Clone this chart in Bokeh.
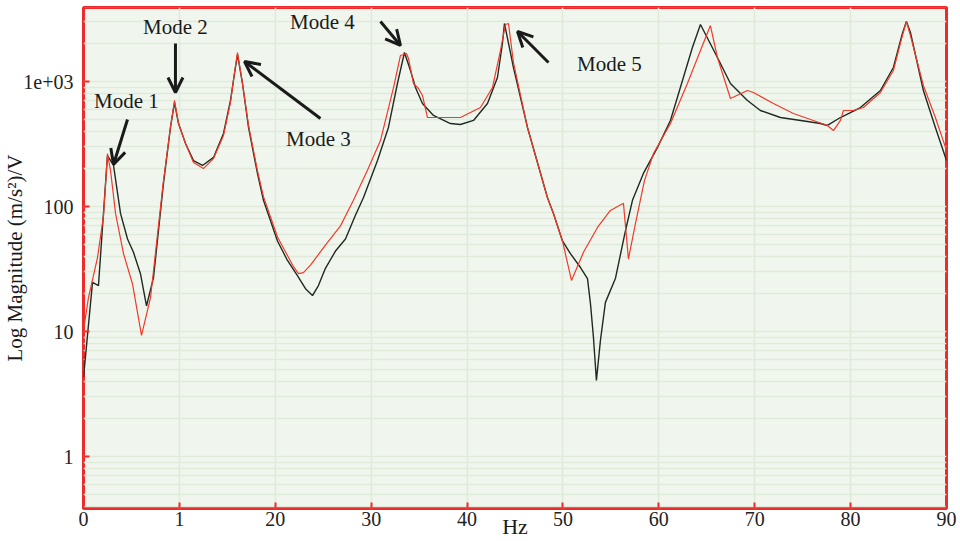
from bokeh.plotting import figure
from bokeh.models import ColumnDataSource, FixedTicker, Arrow, OpenHead
from bokeh.core.properties import value
from bokeh.embed import file_html
from bokeh.resources import INLINE

# ---------------- data ----------------
black_hz = [0.0, 0.94, 1.56, 2.50, 3.13, 3.86, 4.59, 5.21, 5.94, 6.57, 7.30, 8.34,
            9.07, 9.49, 9.91, 10.64, 11.47, 12.41, 13.56, 14.60, 15.33, 15.75, 16.06,
            16.58, 17.21, 18.14, 18.77, 20.23, 21.27, 22.31, 23.15, 23.88, 24.50,
            25.23, 26.28, 27.32, 28.36, 29.20, 30.66, 31.80, 32.74, 33.47, 34.10,
            34.62, 35.35, 36.50, 38.27, 39.31, 40.67, 42.13, 43.17, 43.69, 43.90,
            44.84, 46.30, 48.38, 49.01, 49.95, 50.78, 51.83, 52.56, 52.87, 53.18,
            53.49, 53.91, 54.43, 55.47, 56.52, 57.25, 58.39, 59.85, 61.21, 62.56,
            63.50, 64.34, 66.11, 67.47, 69.24, 70.59, 72.68, 75.50, 76.85, 77.58,
            78.94, 81.02, 83.11, 84.46, 85.40, 85.82, 86.24, 87.59, 88.84, 90.0]
black_mag = [4.3, 24.7, 23.3, 255, 213, 88, 55, 43, 29, 16, 27, 153,
             429, 679, 461, 319, 233, 213, 247, 384, 705, 1159, 1644,
             964, 429, 184, 112, 53, 37, 28, 22, 19.4, 23.3,
             32, 44, 55, 85, 118, 233, 429, 964, 1706, 1225,
             895, 667, 535, 461, 453, 488, 667, 1076, 2014, 2911,
             1294, 429, 118, 88, 53, 42, 32.5, 26.5, 16.7, 9.0,
             4.06, 8.5, 17.1, 26.5, 64, 112, 184, 296, 488, 1076,
             1871, 2858, 1556, 964, 705, 586, 515, 479, 461, 445,
             515, 619, 847, 1294, 2421, 3020, 2466, 847, 429, 233]

red_hz = [0.0, 0.52, 1.46, 2.09, 2.50, 2.82, 3.34, 4.17, 5.11, 6.05, 6.99, 8.34,
          9.07, 9.49, 9.91, 10.64, 11.47, 12.51, 13.56, 14.60, 15.33, 15.75, 16.06,
          16.58, 17.21, 18.14, 18.77, 20.23, 21.27, 21.90, 22.42, 22.94, 23.67,
          25.23, 26.80, 28.15, 29.60, 30.97, 32.33, 33.05, 33.68, 33.89, 34.41,
          34.93, 35.35, 35.87, 36.50, 39.31, 41.40, 42.65, 43.48, 44.00, 44.32,
          44.84, 46.30, 48.38, 49.01, 49.95, 50.89, 52.14, 53.60, 54.95, 56.31,
          56.83, 57.56, 58.50, 59.44, 61.21, 62.98, 64.34, 65.38, 66.11, 67.47,
          69.24, 69.86, 71.95, 74.04, 76.12, 77.58, 78.21, 78.94, 79.25, 80.29,
          81.33, 83.11, 84.46, 85.40, 85.82, 86.24, 87.59, 88.84, 90.0]
red_mag = [10.2, 18.7, 39, 85, 265, 194, 88, 42, 24, 9.3, 18.7, 161,
           429, 705, 461, 319, 225, 201, 242, 370, 680, 1186, 1706,
           964, 445, 194, 120, 57, 40.6, 33, 29, 29.6, 34,
           49, 70, 112, 194, 337, 895, 1614, 1675, 1528, 964,
           879, 773, 515, 515, 515, 619, 895, 1770, 2858, 2911,
           1419, 429, 118, 88, 53, 25.6, 43, 68, 93, 106,
           38, 73, 161, 265, 461, 964, 1770, 2805, 1556, 731,
           847, 817, 667, 555, 488, 445, 405, 488, 586, 586,
           619, 817, 1225, 2330, 3020, 2330, 929, 515, 281]

x_ticks = [0, 10, 20, 30, 40, 50, 60, 70, 80, 90]
x_tick_labels = ["0", "1", "20", "30", "40", "50", "60", "70", "80", "90"]
y_ticks = [1, 10, 100, 1000]
y_tick_labels = ["1", "10", "100", "1e+03"]
y_minor = [m * d for d in (0.1, 1, 10, 100, 1000) for m in range(2, 10)]

mode_labels = ["Mode 1", "Mode 2", "Mode 3", "Mode 4", "Mode 5"]
mode_text_hz = [4.48, 9.59, 24.5, 24.92, 54.85]
mode_text_mag = [692, 2704, 344, 2965, 1368]
arrow_hz_start = [4.59, 9.59, 24.71, 30.97, 48.49]
arrow_mag_start = [497, 2014, 506, 3020, 1419]
arrow_hz_end = [3.13, 9.59, 16.79, 33.06, 45.26]
arrow_mag_end = [217, 817, 1445, 1941, 2512]

x_title = "Hz"
y_title = "Log Magnitude (m/s²)/V"

# ---------------- figure ----------------
FONT = "Liberation Serif"
top = 3.592
bot = -0.416
p = figure(width=960, height=541, x_range=(0, 90),
           y_range=(10 ** bot, 10 ** top), y_axis_type="log",
           output_backend="svg", toolbar_location=None,
           min_border_left=83, min_border_right=14, min_border_top=7,
           min_border_bottom=33)

p.background_fill_color = "#f0f6ee"
p.border_fill_color = "white"
p.outline_line_color = "#ee2a2a"
p.outline_line_width = 3

p.xaxis.ticker = FixedTicker(ticks=x_ticks)
p.xaxis.major_label_overrides = dict(zip(x_ticks, x_tick_labels))
p.yaxis.ticker = FixedTicker(ticks=y_ticks, minor_ticks=y_minor)
p.yaxis.major_label_overrides = dict(zip(y_ticks, y_tick_labels))

for ax in (p.xaxis, p.yaxis):
    ax.axis_line_color = None
    ax.major_tick_line_color = "#ee2a2a"
    ax.major_tick_line_width = 2
    ax.major_tick_in = 6
    ax.major_tick_out = 0
    ax.minor_tick_line_color = None
    ax.major_label_text_font = FONT
    ax.major_label_text_font_size = "20px"
    ax.major_label_text_color = "#222222"
    ax.axis_label_text_font = FONT
    ax.axis_label_text_font_style = "normal"
    ax.axis_label_text_color = "#1a1a1a"
p.xaxis.major_label_standoff = 3
p.yaxis.major_label_standoff = 6

p.xaxis.axis_label = x_title
p.xaxis.axis_label_text_font_size = "22px"
p.xaxis.axis_label_standoff = -15
p.yaxis.axis_label = y_title
p.yaxis.axis_label_text_font_size = "21px"
p.yaxis.axis_label_standoff = -7

p.xgrid.grid_line_color = "#dfeadb"
p.xgrid.grid_line_width = 1.5
p.ygrid.grid_line_color = "#dfeadb"
p.ygrid.grid_line_width = 1.5
p.ygrid.minor_grid_line_color = "#dfeadb"
p.ygrid.minor_grid_line_width = 1.5

p.line(black_hz, black_mag, line_color="#1e2a22", line_width=1.4)
p.line(red_hz, red_mag, line_color="#f03a2a", line_width=1.2)

# arrows
asrc = ColumnDataSource(dict(x0=arrow_hz_start, y0=arrow_mag_start,
                             x1=arrow_hz_end, y1=arrow_mag_end))
p.add_layout(Arrow(end=OpenHead(size=15, line_width=3, line_color="#1a1a1a"),
                   x_start="x0", y_start="y0", x_end="x1", y_end="y1",
                   line_width=3, line_color="#1a1a1a", source=asrc))

tsrc = ColumnDataSource(dict(x=mode_text_hz, y=mode_text_mag, t=mode_labels))
p.text("x", "y", text="t", source=tsrc, text_font=value(FONT),
       text_font_size="21px", text_align="center", text_baseline="middle",
       text_color="#1a1a1a")

open("out.html", "w").write(file_html(p, INLINE))
